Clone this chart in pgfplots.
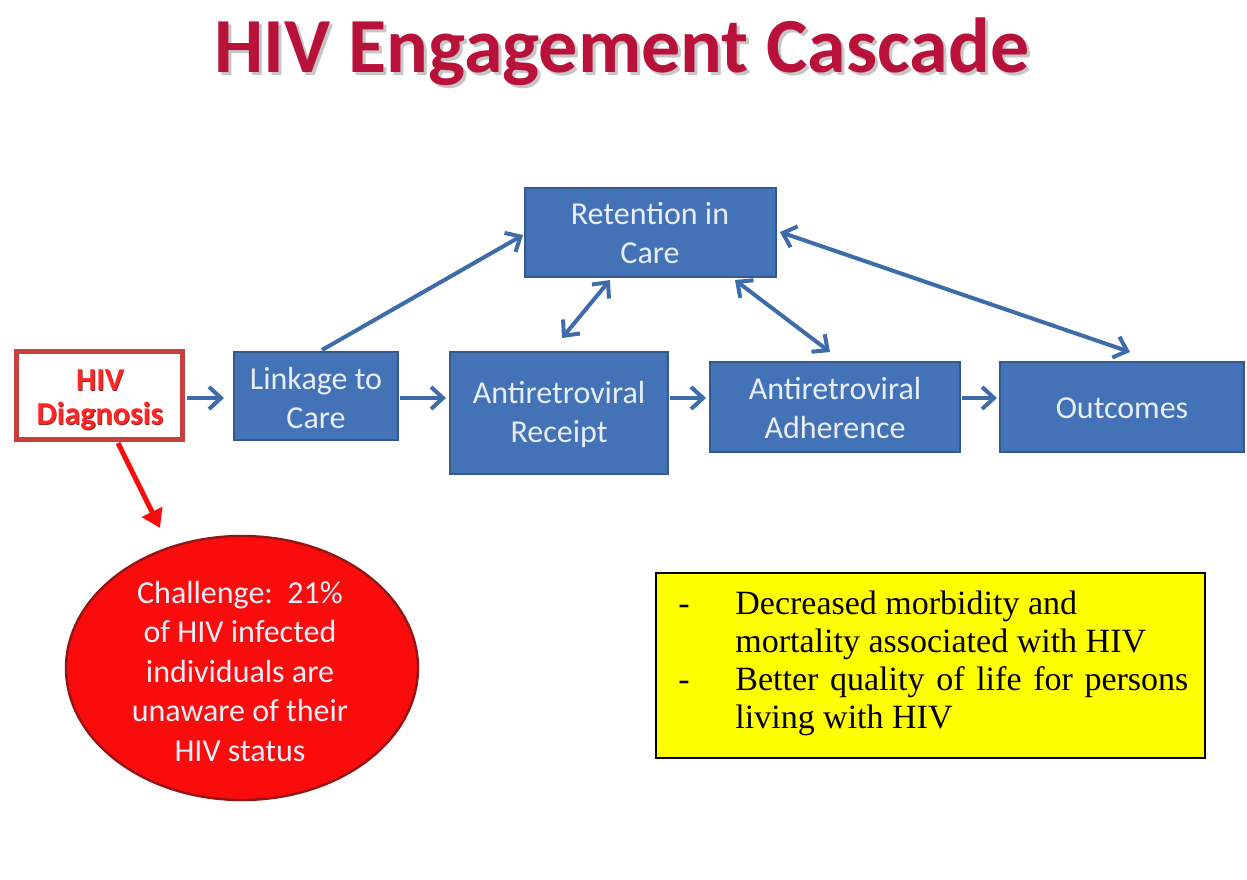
\documentclass[border=0pt]{standalone}
\usepackage{pgfplots}
\pgfplotsset{compat=1.18}
\usepackage{fontspec}
\newfontfamily\carl{Carlito}
\newfontfamily\lserif{Liberation Serif}
\usetikzlibrary{arrows.meta}
\definecolor{boxblue}{RGB}{68,114,182}
\definecolor{boxedge}{RGB}{52,88,145}
\definecolor{arrowblue}{RGB}{62,108,170}
\definecolor{boxtext}{RGB}{232,238,248}
\definecolor{titlered}{RGB}{185,18,58}
\definecolor{diagred}{RGB}{200,64,62}
\definecolor{ellred}{RGB}{250,12,12}
\definecolor{elledge}{RGB}{150,20,20}
\definecolor{ylw}{RGB}{255,255,0}
\tikzset{
  bx/.style={fill=boxblue, draw=boxedge, line width=1pt},
  ar/.style={arrowblue, line width=2pt, -{Straight Barb[length=6pt,width=11pt,line width=2pt]}},
  dar/.style={arrowblue, line width=2pt, {Straight Barb[length=6pt,width=11pt,line width=2pt]}-{Straight Barb[length=6pt,width=11pt,line width=2pt]}},
  tx/.style={text=boxtext, font=\carl\fontsize{16}{19.5}\selectfont, align=center},
}
\begin{document}
\begin{tikzpicture}
\begin{axis}[
  width=623.5pt, height=439.5pt, scale only axis,
  xmin=0, xmax=1247, ymin=0, ymax=879, y dir=reverse,
  axis lines=none, clip=false,
  axis background/.style={fill=white},
]
% title
\node[text=gray!45, font=\carl\bfseries\fontsize{39}{44}\selectfont] at (axis cs:625,55) {HIV Engagement Cascade};
\node[text=titlered, font=\carl\bfseries\fontsize{39}{44}\selectfont] at (axis cs:622,52) {HIV Engagement Cascade};
% boxes
\addplot[bx] coordinates {(234,352) (398,352) (398,440) (234,440)} --cycle;
\addplot[bx] coordinates {(450,352) (668,352) (668,474) (450,474)} --cycle;
\addplot[bx] coordinates {(710,362) (960,362) (960,452) (710,452)} --cycle;
\addplot[bx] coordinates {(1000,362) (1244,362) (1244,452) (1000,452)} --cycle;
\addplot[bx] coordinates {(525,188) (776,188) (776,277) (525,277)} --cycle;
\addplot[fill=white, draw=diagred, line width=2.5pt] coordinates {(16,351) (182,351) (182,439) (16,439)} --cycle;
% arrows
\addplot[ar] coordinates {(187,398) (224,398)};
\addplot[ar] coordinates {(400,398) (446,398)};
\addplot[ar] coordinates {(670,398) (706,398)};
\addplot[ar] coordinates {(962,398) (997,398)};
\addplot[ar] coordinates {(322,350) (523,235)};
\addplot[dar] coordinates {(562,338) (610,280)};
\addplot[dar] coordinates {(735,280) (830,352)};
\addplot[dar] coordinates {(780,232) (1130,352)};
\addplot[ellred, line width=2.5pt, -{Triangle[length=9pt,width=11pt]}] coordinates {(118,443) (160,528)};
% box texts
\node[tx] at (axis cs:316,398) {Linkage to\\Care};
\node[tx] at (axis cs:559,414) {Antiretroviral\\Receipt};
\node[tx] at (axis cs:835,408) {Antiretroviral\\Adherence};
\node[tx] at (axis cs:1122,408) {Outcomes};
\node[tx] at (axis cs:650,233) {Retention in\\Care};
\node[text=diagred!70!black, font=\carl\bfseries\fontsize{16}{17}\selectfont, align=center] at (axis cs:100.8,400.8) {HIV\\Diagnosis};
\node[text=red!85!white, font=\carl\bfseries\fontsize{16}{17}\selectfont, align=center] at (axis cs:100,400) {HIV\\Diagnosis};
% ellipse
\draw[fill=ellred, draw=elledge, line width=1.2pt] (axis cs:242,668) ellipse [x radius=88pt, y radius=66pt];
\node[text=boxtext, font=\carl\fontsize{16}{19.75}\selectfont, align=center] at (axis cs:240,671) {Challenge:\ \ 21\%\\of HIV infected\\individuals are\\unaware of their\\HIV status};
% yellow box
\addplot[fill=ylw, draw=black, line width=1.2pt] coordinates {(656,573) (1205,573) (1205,758) (656,758)} --cycle;
\node[text width=255pt, align=justify, inner sep=0pt, anchor=north west, font=\lserif\fontsize{17}{19}\selectfont] at (axis cs:678,590) {%
\hangindent=28.5pt\hangafter=1\noindent\makebox[28.5pt][l]{-}Decreased morbidity and\newline mortality associated with HIV\par
\hangindent=28.5pt\hangafter=1\noindent\makebox[28.5pt][l]{-}Better quality of life for persons\linebreak living with HIV\par};
\end{axis}
\end{tikzpicture}
\end{document}
